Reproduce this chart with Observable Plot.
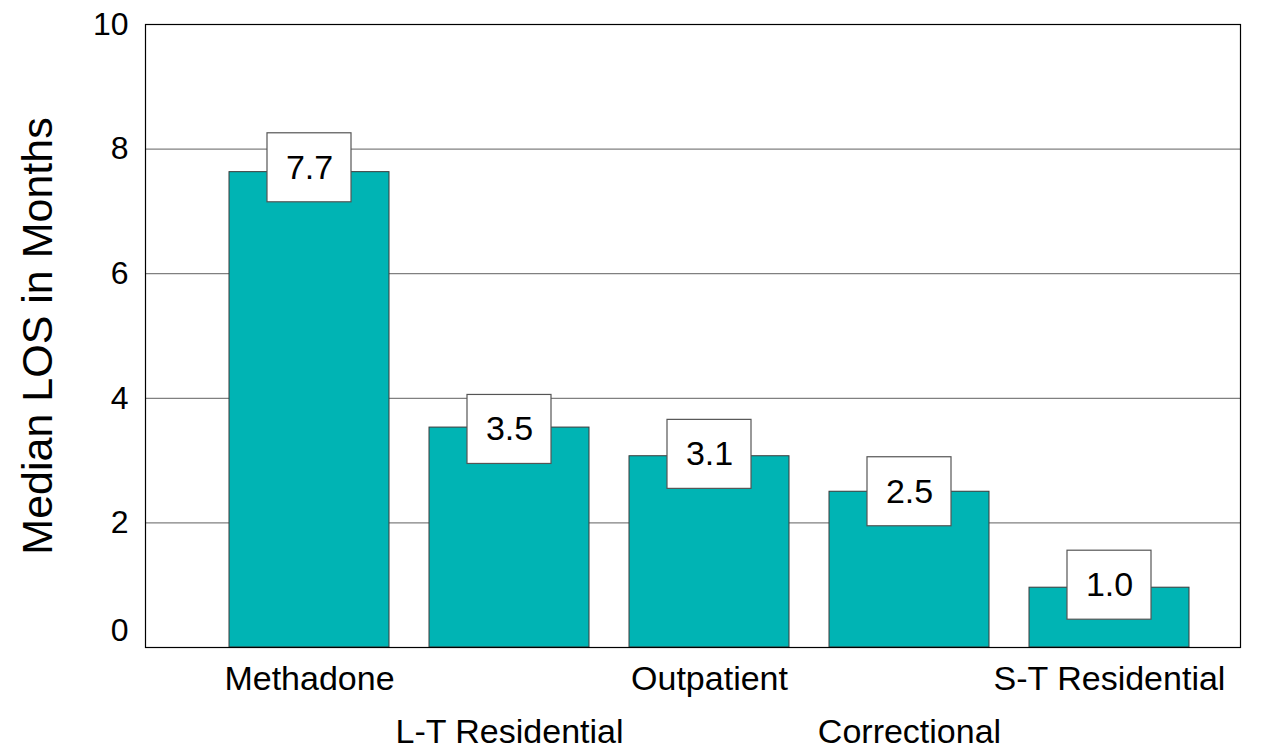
<!DOCTYPE html>
<html>
<head>
<meta charset="utf-8">
<script src="https://cdn.jsdelivr.net/npm/d3@7"></script>
<script src="https://cdn.jsdelivr.net/npm/@observablehq/plot@0.6"></script>
<style>
  html, body { margin: 0; padding: 0; background: white; }
  svg { font-family: "Liberation Sans", Arial, sans-serif; }
</style>
</head>
<body>
<div id="chart"></div>
<script>
const categories = ["Methadone", "L-T Residential", "Outpatient", "Correctional", "S-T Residential"];
const barValues = [7.63, 3.53, 3.07, 2.5, 0.96];
const labelValues = [7.7, 3.5, 3.1, 2.5, 1.0];
const labelTexts = ["7.7", "3.5", "3.1", "2.5", "1.0"];
const yTicks = [0, 2, 4, 6, 8, 10];
const gridTicks = [2, 4, 6, 8];
const yLabel = "Median LOS in Months";
const row1 = ["Methadone", "Outpatient", "S-T Residential"];
const row2 = ["L-T Residential", "Correctional"];

const data = categories.map((c, i) => ({cat: c, value: barValues[i], label: labelValues[i], text: labelTexts[i]}));

const chart = Plot.plot({
  width: 1281,
  height: 752,
  marginLeft: 145,
  marginRight: 41,
  marginTop: 24,
  marginBottom: 105,
  style: {fontFamily: '"Liberation Sans", Arial, sans-serif', background: "white", color: "black"},
  x: {domain: categories, range: [209, 1209], paddingInner: 0.2, paddingOuter: 0.1, axis: null},
  y: {domain: [0, 10], axis: null},
  marks: [
    Plot.ruleY(gridTicks, {stroke: "#808080", strokeWidth: 1.2}),
    Plot.barY(data, {x: "cat", y: "value", fill: "#00B4B4", stroke: "#3a3a3a", strokeWidth: 1}),
    Plot.barY(data, {x: "cat", y1: "label", y2: "label", insetLeft: 38, insetRight: 38, insetTop: -34.5, insetBottom: -34.5, fill: "white", stroke: "#555", strokeWidth: 1.2}),
    Plot.text(data, {x: "cat", y: "label", text: "text", fontSize: 34, fill: "black"}),
    Plot.frame({stroke: "black", strokeWidth: 1.2}),
    Plot.axisY(yTicks.filter(t => t !== 0), {tickSize: 0, tickPadding: 17, fontSize: 32, tickFormat: d => String(d), label: null}),
    Plot.axisY([0], {tickSize: 0, tickPadding: 17, fontSize: 32, tickFormat: d => String(d), label: null, dy: -17}),
    Plot.axisX(row1, {tickSize: 0, tickPadding: 18, fontSize: 34, label: null}),
    Plot.axisX(row2, {tickSize: 0, tickPadding: 71, fontSize: 34, label: null}),
    Plot.text([yLabel], {text: d => d, frameAnchor: "left", textAnchor: "middle", rotate: -90, dx: -107, fontSize: 43, fill: "black"})
  ]
});
document.getElementById("chart").appendChild(chart);
</script>
</body>
</html>
